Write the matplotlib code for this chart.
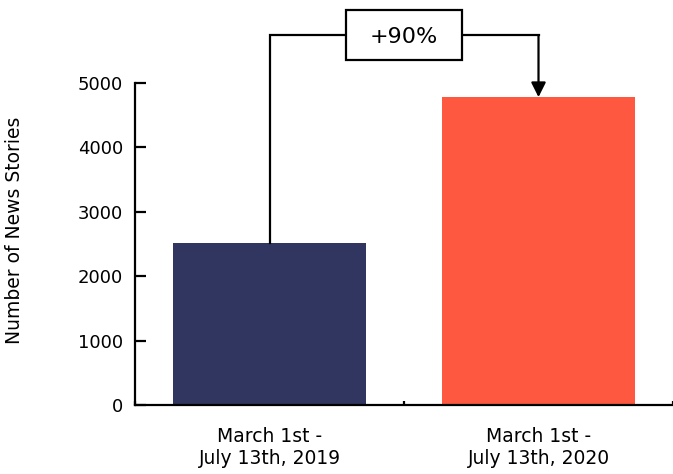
import matplotlib as mpl
import matplotlib.pyplot as plt
from matplotlib.patches import Rectangle

mpl.rcParams.update({
    "font.family": ["DejaVu Sans"],
    "font.size": 13,
})

# story counts for the two comparison windows
periods = ["March 1st -\nJuly 13th, 2019", "March 1st -\nJuly 13th, 2020"]
stories = [2510, 4780]
bar_colors = ["#303660", "#FF5841"]
change_label = "+90%"
bracket_y = 5740
yticks = [0, 1000, 2000, 3000, 4000, 5000]

fig = plt.figure(figsize=(6.73, 4.74), dpi=100)
ax = fig.add_axes([0.2006, 0.1456, 0.7994, 0.6793])

xs = list(range(len(periods)))
ax.bar(xs, stories, width=0.72, color=bar_colors, zorder=2)

ax.set_xlim(-0.5, 1.5)
ax.set_ylim(0, 5000)
ax.set_yticks(yticks)
ax.set_xticks(xs)
ax.set_xticklabels(periods, linespacing=1.2)
ax.set_xticks([-0.5, 0.5, 1.5], minor=True)

for sp in ("top", "right"):
    ax.spines[sp].set_visible(False)
for sp in ("left", "bottom"):
    ax.spines[sp].set_linewidth(1.6)

ax.tick_params(axis="y", direction="in", length=8, width=1.6, pad=8.5,
               labelsize=13)
ax.tick_params(axis="x", which="major", length=0, pad=16, labelsize=13.5)
ax.tick_params(axis="x", which="minor", direction="in", length=3, width=1.6)

fig.text(15 / 673, 1 - 230 / 474, "Number of News Stories", rotation=90,
         ha="center", va="center", fontsize=13.5)

# bracket from the 2019 bar up and over to the 2020 bar
ax.plot([xs[0], xs[0], xs[1]], [stories[0], bracket_y, bracket_y],
        color="black", lw=1.6, clip_on=False, zorder=3,
        solid_joinstyle="miter")
ax.annotate("", xy=(xs[1], stories[1]), xytext=(xs[1], bracket_y),
            arrowprops=dict(arrowstyle="-|>", lw=1.6, color="black",
                            mutation_scale=22, shrinkA=0, shrinkB=0),
            annotation_clip=False, zorder=3)

mid = (xs[0] + xs[1]) / 2
box_w, box_h = 0.428, 776
ax.add_patch(Rectangle((mid - box_w / 2, bracket_y - box_h / 2), box_w, box_h,
                       fc="white", ec="black", lw=1.6, clip_on=False,
                       zorder=4))
ax.text(mid, bracket_y, change_label, ha="center", va="center_baseline",
        fontsize=16, zorder=5)

fig.savefig("out.png", dpi=100)
